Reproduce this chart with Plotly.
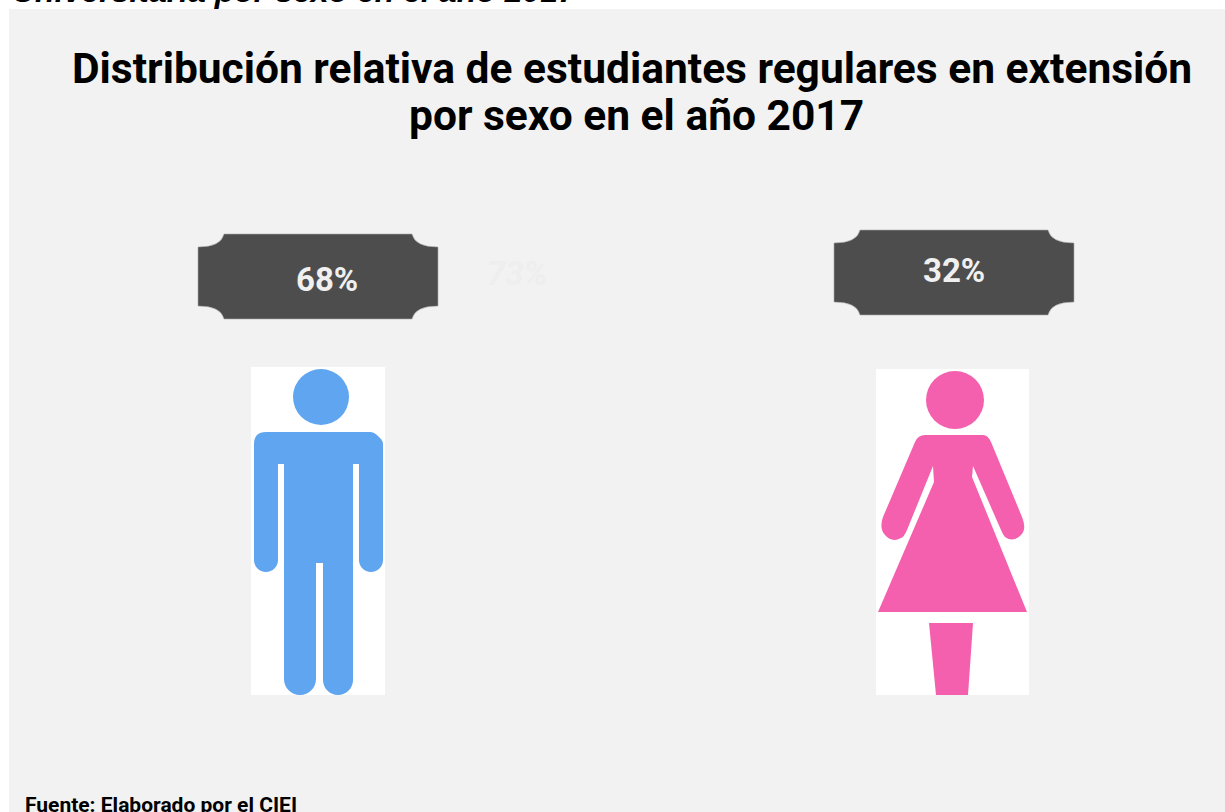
import plotly.graph_objects as go

TITLE_LINES = ["Distribución relativa de estudiantes regulares en extensión", "por sexo en el año 2017"]
HEADING = "Universitaria por sexo en el año 2017"
SOURCE = "Fuente: Elaborado por el CIEI"
categories = ["Hombres", "Mujeres"]
percentages = [68, 32]
ghost_label = "73%"

PANEL = "#f2f2f2"
BADGE = "#4d4d4d"
BLUE = "#5fa5f0"
PINK = "#f45fae"
FONT = "Roboto"


def badge_path(left, top):
    """Plaque with concave corners, 240 x 85 px."""
    r, b = left + 240, top + 85
    return (
        f"M {left + 26} {top} L {r - 26} {top} Q {r - 23} {top + 13} {r} {top + 13} "
        f"L {r} {b - 13} Q {r - 23} {b - 13} {r - 26} {b} L {left + 26} {b} "
        f"Q {left + 23} {b - 13} {left} {b - 13} L {left} {top + 13} "
        f"Q {left + 23} {top + 13} {left + 26} {top} Z"
    )


MAN_BODY = (
    "M 254 444 Q 254 432 266 432 L 370 432 Q 374 432 378 436 L 381 439 Q 383 441 383 445 L 383 560 "
    "C 383 566.6 377.6 572 371 572 C 364.4 572 359 566.6 359 560 L 359 464 L 353 464 L 353 680 "
    "C 353 688.3 346.3 695 338 695 C 329.7 695 323 688.3 323 680 L 323 563 L 316 563 L 316 679 "
    "C 316 687.8 308.8 695 300 695 C 291.2 695 284 687.8 284 679 L 284 464 L 278 464 L 278 560 "
    "C 278 566.6 272.6 572 266 572 C 259.4 572 254 566.6 254 560 Z"
)
WOMAN_BODY = (
    "M 925 435 L 983 435 Q 988 435 991 442 L 1022 517 Q 1027 529 1021 535 Q 1013 543 1005 537 "
    "Q 1003 535 1001 530 L 973 466 L 972 477 L 1027 612 L 878 612 L 934 482 L 933 466 L 907 530 "
    "Q 904 537 901 538 Q 892 543 885 535 Q 879 528 883 517 L 915 442 Q 918 435 925 435 Z"
)
WOMAN_LEG = "M 929 623 L 973 623 L 968 695 L 936 695 Z"

shapes = [
    dict(type="rect", x0=9, x1=1225, y0=9, y1=812, fillcolor=PANEL, line_width=0, layer="below"),
    # figure backgrounds
    dict(type="rect", x0=251, x1=385, y0=367, y1=695, fillcolor="white", line_width=0, layer="below"),
    dict(type="rect", x0=876, x1=1029, y0=369, y1=695, fillcolor="white", line_width=0, layer="below"),
    # man
    dict(type="circle", x0=293, x1=349, y0=369, y1=425, fillcolor=BLUE, line_width=0),
    dict(type="path", path=MAN_BODY, fillcolor=BLUE, line_width=0),
    # woman
    dict(type="circle", x0=926, x1=984, y0=371, y1=429, fillcolor=PINK, line_width=0),
    dict(type="path", path=WOMAN_BODY, fillcolor=PINK, line_width=0),
    dict(type="path", path=WOMAN_LEG, fillcolor=PINK, line_width=0),
    # value plaques
    dict(type="path", path=badge_path(198, 234), fillcolor=BADGE, line=dict(color="#a8a8a8", width=0.6)),
    dict(type="path", path=badge_path(834, 230), fillcolor=BADGE, line=dict(color="#a8a8a8", width=0.6)),
]

annotations = [
    dict(x=10, y=11, text=HEADING, xanchor="left", yanchor="bottom", showarrow=False,
         font=dict(family="Liberation Sans", size=32, weight="bold", style="italic", color="black")),
    dict(x=632, y=68, text=TITLE_LINES[0], showarrow=False,
         font=dict(family=FONT, size=42.5, weight="bold", color="black")),
    dict(x=636, y=115, text=TITLE_LINES[1], showarrow=False,
         font=dict(family=FONT, size=42.5, weight="bold", color="black")),
    dict(x=327, y=279, text=f"{percentages[0]}%", showarrow=False,
         font=dict(family=FONT, size=33, weight="bold", color="#f0f0f0")),
    dict(x=954, y=270, text=f"{percentages[1]}%", showarrow=False,
         font=dict(family=FONT, size=33, weight="bold", color="#f0f0f0")),
    dict(x=517, y=273, text=ghost_label, showarrow=False,
         font=dict(family=FONT, size=33, weight="bold", style="italic", color="#eeeeee")),
    dict(x=23, y=791, text=SOURCE, xanchor="left", yanchor="top", showarrow=False,
         font=dict(family=FONT, size=21, weight="bold", color="black")),
]

fig = go.Figure()
fig.update_layout(
    width=1225,
    height=812,
    margin=dict(l=0, r=0, t=0, b=0),
    paper_bgcolor="white",
    plot_bgcolor="white",
    showlegend=False,
    xaxis=dict(range=[0, 1225], visible=False, fixedrange=True),
    yaxis=dict(range=[812, 0], visible=False, fixedrange=True),
    shapes=shapes,
    annotations=annotations,
)

fig.write_html(
    "out.html",
    config=dict(displayModeBar=False),
    post_script="document.body.style.margin = '0';",
)
